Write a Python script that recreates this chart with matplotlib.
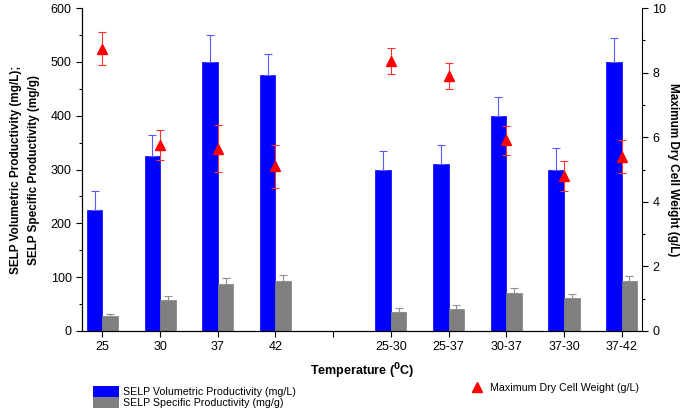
import matplotlib
matplotlib.use('Agg')
import matplotlib.pyplot as plt
import numpy as np
from matplotlib.patches import Patch
from matplotlib.lines import Line2D
import matplotlib.ticker as ticker

plt.rcParams['font.family'] = ['Liberation Sans', 'DejaVu Sans']

labels = ['25', '30', '37', '42', '', '25-30', '25-37', '30-37', '37-30', '37-42']
pos = [0, 1, 2, 3, 5, 6, 7, 8, 9]

vol = [225, 325, 500, 475, 300, 310, 400, 300, 500]
vol_err = [35, 40, 50, 40, 35, 35, 35, 40, 45]
spec = [27, 58, 88, 93, 36, 40, 71, 62, 93]
spec_err = [5, 7, 10, 10, 6, 8, 9, 6, 9]
dcw = [8.75, 5.75, 5.65, 5.1, 8.37, 7.9, 5.9, 4.8, 5.4]
dcw_err = [0.52, 0.47, 0.72, 0.67, 0.4, 0.41, 0.44, 0.46, 0.5]

fig = plt.figure(figsize=(6.85, 4.09), dpi=100)
ax = fig.add_axes([0.12, 0.191, 0.817, 0.789])
w = 0.27
x = np.array(pos)

ax.bar(x - w / 2, vol, w, color='#0000ff', edgecolor='#0000ff', linewidth=0.5, zorder=2)
ax.errorbar(x - w / 2, vol, yerr=[np.zeros(len(vol)), vol_err], fmt='none',
            ecolor='#5a5aff', elinewidth=0.8, capsize=3, capthick=0.8, zorder=3)
ax.bar(x + w / 2, spec, w, color='#808080', edgecolor='#808080', linewidth=0.5, zorder=2)
ax.errorbar(x + w / 2, spec, yerr=[np.zeros(len(spec)), spec_err], fmt='none',
            ecolor='#909090', elinewidth=0.8, capsize=3, capthick=0.8, zorder=3)

ax.set_xlim(-0.35, 9.35)
ax.set_ylim(0, 600)
ax.set_xticks(range(len(labels)))
ax.set_xticklabels(labels)
ax.set_yticks(np.arange(0, 601, 100))
ax.yaxis.set_minor_locator(ticker.MultipleLocator(50))
ax.tick_params(axis='both', direction='out', labelsize=9, length=4, width=0.8)
ax.tick_params(axis='y', which='minor', length=2.5, width=0.8)
ax.spines['top'].set_visible(False)
ax.spines['right'].set_visible(False)

ax.set_xlabel('Temperature ($\\mathbf{^0}$C)', fontsize=9, fontweight='bold', labelpad=6)
ax.set_ylabel('SELP Volumetric Productivity (mg/L);\nSELP Specific Productivity (mg/g)',
              fontsize=8.5, fontweight='bold', labelpad=8, linespacing=1.6)

ax2 = ax.twinx()
ax2.errorbar(x, dcw, yerr=dcw_err, fmt='none', ecolor='#ff3030', elinewidth=0.8,
             capsize=3, capthick=0.8, zorder=4)
ax2.plot(x, dcw, '^', color='#ff0000', markersize=7, linestyle='none', zorder=5)
ax2.set_ylim(0, 10)
ax2.set_yticks(np.arange(0, 11, 2))
ax2.yaxis.set_minor_locator(ticker.MultipleLocator(1))
ax2.tick_params(axis='y', direction='out', labelsize=9, length=4, width=0.8)
ax2.tick_params(axis='y', which='minor', length=2.5, width=0.8)
ax2.spines['top'].set_visible(False)
ax2.set_ylabel('Maximum Dry Cell Weight (g/L)', fontsize=8.5, fontweight='bold',
               rotation=-90, labelpad=9)

h1 = [Patch(facecolor='#0000ff'), Patch(facecolor='#808080')]
fig.legend(h1, ['SELP Volumetric Productivity (mg/L)', 'SELP Specific Productivity (mg/g)'],
           loc='lower left', bbox_to_anchor=(0.122, -0.022), frameon=False, fontsize=7.7,
           handlelength=2.4, handleheight=1.15, labelspacing=0.05, handletextpad=0.4)
h2 = [Line2D([], [], marker='^', color='#ff0000', linestyle='none', markersize=7)]
fig.legend(h2, ['Maximum Dry Cell Weight (g/L)'], loc='lower left',
           bbox_to_anchor=(0.667, 0.015), frameon=False, fontsize=7.7, handletextpad=0.2)

plt.savefig('out.png', dpi=100, facecolor='white')
plt.close()
